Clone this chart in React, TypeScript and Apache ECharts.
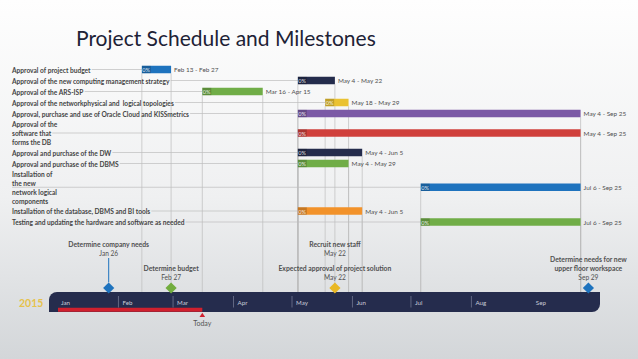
import React, { useEffect, useRef } from 'react';
import * as echarts from 'echarts';

// ---------- data ----------
const TITLE = 'Project Schedule and Milestones';
const YEAR = 2015;
const MONTH_NAMES = ['Jan', 'Feb', 'Mar', 'Apr', 'May', 'Jun', 'Jul', 'Aug', 'Sep', 'Oct', 'Nov', 'Dec'];
const TIMELINE_MONTHS = ['Jan', 'Feb', 'Mar', 'Apr', 'May', 'Jun', 'Jul', 'Aug', 'Sep'];

const TASKS = [
  'Approval of project budget',
  'Approval of the new computing management strategy',
  'Approval of the ARS-ISP',
  'Approval of the networkphysical and  logical topologies',
  'Approval, purchase and use of Oracle Cloud and KISSmetrics',
  'Approval of the\nsoftware that\nforms the DB',
  'Approval and purchase of the DW',
  'Approval and purchase of the DBMS',
  'Installation of\nthe new\nnetwork logical\ncomponents',
  'Installation of the database, DBMS and BI tools',
  'Testing and updating the hardware and software as needed',
];
const TASK_START = ['2015-02-13', '2015-05-04', '2015-03-16', '2015-05-18', '2015-05-04', '2015-05-04', '2015-05-04', '2015-05-04', '2015-07-06', '2015-05-04', '2015-07-06'];
const TASK_END = ['2015-02-27', '2015-05-22', '2015-04-15', '2015-05-29', '2015-09-25', '2015-09-25', '2015-06-05', '2015-05-29', '2015-09-25', '2015-06-05', '2015-09-25'];
const TASK_PROGRESS = [0, 0, 0, 0, 0, 0, 0, 0, 0, 0, 0];

const MILESTONES = [
  'Determine company needs',
  'Determine budget',
  'Recruit new staff',
  'Expected approval of project solution',
  'Determine needs for new\nupper floor workspace',
];
const MILESTONE_DATES = ['2015-01-26', '2015-02-27', '2015-05-22', '2015-05-22', '2015-09-29'];
const TODAY = '2015-03-15';

// ---------- styles ----------
const TASK_COLORS = ['#1e73be', '#242c4c', '#70ad47', '#eac232', '#7b59a5', '#d0403c', '#242c4c', '#70ad47', '#1e73be', '#f2922a', '#70ad47'];
const MILESTONE_COLORS = ['#1e73be', '#72ad3e', '', '#e9b824', '#1e73be'];
const MILESTONE_TIER = [0, 1, 0, 1, 1];
const FONT = 'Lato';
const LABEL_FS = 6.6;
const GRID_LINE = '#bdbdbd';

const DAY_MS = 86400000;
const dayOf = (s: string) => {
  const [y, m, d] = s.split('-').map(Number);
  return (Date.UTC(y, m - 1, d) - Date.UTC(YEAR, 0, 1)) / DAY_MS;
};
const fmtDate = (s: string) => {
  const [, m, d] = s.split('-').map(Number);
  return `${MONTH_NAMES[m - 1]} ${d}`;
};

export default function App() {
  const ref = useRef<HTMLDivElement>(null);
  useEffect(() => {
    if (!ref.current) return;
    const chart = echarts.init(ref.current, undefined, { renderer: 'svg' });

    // row layout (single line rows 11px, extra text lines 8.5px)
    const ROW_H = 11;
    const EXTRA = 8.5;
    let acc = 0;
    const rowCenters = TASKS.map((t) => {
      const n = t.split('\n').length;
      const h = ROW_H + (n - 1) * EXTRA;
      const c = acc + h / 2;
      acc += h;
      return c;
    });

    const LABEL_X = 12;
    const canvas = document.createElement('canvas');
    const ctx = canvas.getContext('2d') as CanvasRenderingContext2D;
    ctx.font = `bold ${LABEL_FS}px ${FONT}`;
    const leaderStart = TASKS.map((t) => {
      const lines = t.split('\n');
      if (lines.length % 2 === 0) return LABEL_X;
      const mid = lines[(lines.length - 1) / 2];
      return LABEL_X + ctx.measureText(mid).width + 1;
    });

    const BAR_H = 7.5;
    const X_MAX = 280;
    const Y_MAX = 228;

    const taskData = TASKS.map((_, i) => [dayOf(TASK_START[i]), dayOf(TASK_END[i]) + 1, rowCenters[i], leaderStart[i], TASK_PROGRESS[i], i]);

    const option: any = {
      animation: false,
      backgroundColor: new echarts.graphic.LinearGradient(0, 0, 0, 1, [
        { offset: 0, color: '#fefefe' },
        { offset: 0.55, color: '#eff0f1' },
        { offset: 1, color: '#d3d6d9' },
      ]),
      grid: [
        { left: 58, right: 34, top: 64, height: Y_MAX },
        { left: 58, right: 34, top: 292, height: 20 },
      ],
      xAxis: [
        { type: 'value', gridIndex: 0, min: 0, max: X_MAX, show: false },
        { type: 'value', gridIndex: 1, min: 0, max: X_MAX, show: false },
      ],
      yAxis: [
        { type: 'value', gridIndex: 0, min: 0, max: Y_MAX, inverse: true, show: false },
        { type: 'value', gridIndex: 1, min: 0, max: 1, show: false },
      ],
      graphic: [
        {
          type: 'text',
          left: 76,
          top: 27,
          style: { text: TITLE, fill: '#1d2236', fontSize: 21, fontFamily: FONT, fontWeight: 'normal' },
        },
        {
          type: 'text',
          left: 19,
          top: 297,
          style: { text: String(YEAR), fill: '#e6c24c', fontSize: 10.5, fontFamily: FONT, fontWeight: 'bold' },
        },
      ],
      series: [
        {
          type: 'custom',
          name: 'guides',
          xAxisIndex: 0,
          yAxisIndex: 0,
          clip: false,
          z: 1,
          data: taskData,
          renderItem: (params: any, api: any) => {
            const s = api.coord([api.value(0), api.value(2)]);
            const e = api.coord([api.value(1), api.value(2)]);
            const bottom = params.coordSys.y + params.coordSys.height;
            const half = BAR_H / 2;
            const st = { stroke: GRID_LINE, lineWidth: 0.7 };
            return {
              type: 'group',
              children: [
                { type: 'line', shape: { x1: api.value(3), y1: s[1], x2: s[0], y2: s[1] }, style: st },
                { type: 'line', shape: { x1: s[0], y1: s[1] + half, x2: s[0], y2: bottom }, style: st },
                { type: 'line', shape: { x1: e[0], y1: e[1] + half, x2: e[0], y2: bottom }, style: st },
              ],
            };
          },
        },
        {
          type: 'custom',
          name: 'tasks',
          xAxisIndex: 0,
          yAxisIndex: 0,
          clip: false,
          z: 2,
          data: taskData,
          renderItem: (params: any, api: any) => {
            const i = api.value(5);
            const s = api.coord([api.value(0), api.value(2)]);
            const e = api.coord([api.value(1), api.value(2)]);
            const w = e[0] - s[0];
            const y = s[1] - BAR_H / 2;
            return {
              type: 'group',
              children: [
                {
                  type: 'text',
                  x: LABEL_X,
                  y: s[1],
                  style: {
                    text: TASKS[i],
                    fill: '#454545',
                    fontSize: LABEL_FS,
                    fontFamily: FONT,
                    fontWeight: 'bold',
                    verticalAlign: 'middle',
                    align: 'left',
                    lineHeight: 9,
                  },
                },
                { type: 'rect', shape: { x: s[0], y, width: w, height: BAR_H }, style: { fill: TASK_COLORS[i] } },
                { type: 'rect', shape: { x: s[0], y, width: Math.min(9, w), height: BAR_H }, style: { fill: 'rgba(0,0,0,0.18)' } },
                {
                  type: 'text',
                  x: s[0] + 0.5,
                  y: s[1],
                  style: {
                    text: `${api.value(4)}%`,
                    fill: 'rgba(255,255,255,0.85)',
                    fontSize: 5.6,
                    fontFamily: FONT,
                    verticalAlign: 'middle',
                    align: 'left',
                  },
                },
                {
                  type: 'text',
                  x: e[0] + 3,
                  y: e[1],
                  style: {
                    text: `${fmtDate(TASK_START[i])} - ${fmtDate(TASK_END[i])}`,
                    fill: '#505050',
                    fontSize: 6.4,
                    fontFamily: FONT,
                    verticalAlign: 'middle',
                    align: 'left',
                  },
                },
              ],
            };
          },
        },
        {
          type: 'custom',
          name: 'timeline',
          xAxisIndex: 1,
          yAxisIndex: 1,
          clip: false,
          z: 3,
          data: [[0, dayOf(TODAY) + 1]],
          renderItem: (params: any, api: any) => {
            const cs = params.coordSys;
            const a = api.coord([api.value(0), 0]);
            const t = api.coord([api.value(1), 0]);
            const bottom = cs.y + cs.height;
            return {
              type: 'group',
              children: [
                {
                  type: 'rect',
                  shape: { x: cs.x - 9, y: cs.y, width: cs.width + 5, height: cs.height, r: [8, 0, 8, 0] },
                  style: { fill: '#252c4d' },
                },
                {
                  type: 'rect',
                  shape: { x: a[0], y: bottom - 4.3, width: t[0] - a[0], height: 4 },
                  style: { fill: '#d0202e' },
                },
                {
                  type: 'polygon',
                  shape: { points: [[t[0], bottom + 0.8], [t[0] - 2.8, bottom + 5], [t[0] + 2.8, bottom + 5]] },
                  style: { fill: '#d0202e' },
                },
                {
                  type: 'text',
                  x: t[0],
                  y: bottom + 11,
                  style: { text: 'Today', fill: '#555', fontSize: 7, fontFamily: FONT, align: 'center', verticalAlign: 'middle' },
                },
              ],
            };
          },
        },
        {
          type: 'custom',
          name: 'months',
          xAxisIndex: 1,
          yAxisIndex: 1,
          clip: false,
          z: 4,
          data: TIMELINE_MONTHS.map((_, m) => [dayOf(`${YEAR}-${m + 1}-01`), m]),
          renderItem: (params: any, api: any) => {
            const cs = params.coordSys;
            const m = api.value(1);
            const p = api.coord([api.value(0), 0]);
            const children: any[] = [];
            if (m > 0 && m < TIMELINE_MONTHS.length - 1) {
              children.push({
                type: 'line',
                shape: { x1: p[0], y1: cs.y + 4, x2: p[0], y2: cs.y + 15.5 },
                style: { stroke: '#8a91a8', lineWidth: 0.6 },
              });
            }
            children.push({
              type: 'text',
              x: p[0] + (m === 0 ? 3 : 4),
              y: cs.y + 10.5,
              style: { text: TIMELINE_MONTHS[m], fill: '#c9cdd9', fontSize: 6.2, fontFamily: FONT, align: 'left', verticalAlign: 'middle' },
            });
            return { type: 'group', children };
          },
        },
        {
          type: 'custom',
          name: 'milestones',
          xAxisIndex: 1,
          yAxisIndex: 1,
          clip: false,
          z: 5,
          data: MILESTONES.map((_, i) => [dayOf(MILESTONE_DATES[i]) + 1, i]),
          renderItem: (params: any, api: any) => {
            const cs = params.coordSys;
            const i = api.value(1);
            const p = api.coord([api.value(0), 0]);
            const x = p[0];
            const cy = cs.y - 4;
            const hs = 5.6;
            const tier = MILESTONE_TIER[i];
            const color = MILESTONE_COLORS[i];
            const dateY = tier === 0 ? cs.y - 39 : cs.y - 15;
            const nameY = dateY - 9;
            const children: any[] = [];
            if (color && tier === 0) {
              children.push({
                type: 'line',
                shape: { x1: x, y1: dateY + 5, x2: x, y2: cy - hs },
                style: { stroke: color, lineWidth: 1 },
              });
            }
            if (color) {
              children.push({
                type: 'polygon',
                shape: { points: [[x, cy - hs], [x + hs, cy], [x, cy + hs], [x - hs, cy]] },
                style: { fill: color },
              });
            }
            children.push({
              type: 'text',
              x,
              y: nameY + 4.5,
              style: {
                text: MILESTONES[i],
                fill: '#505050',
                fontSize: 6.8,
                fontFamily: FONT,
                fontWeight: 'bold',
                align: 'center',
                verticalAlign: 'bottom',
                lineHeight: 9,
              },
            });
            children.push({
              type: 'text',
              x,
              y: dateY,
              style: { text: fmtDate(MILESTONE_DATES[i]), fill: '#505050', fontSize: 6.6, fontFamily: FONT, align: 'center', verticalAlign: 'middle' },
            });
            return { type: 'group', children };
          },
        },
      ],
    };
    chart.setOption(option);
    return () => chart.dispose();
  }, []);
  return <div ref={ref} style={{ position: 'fixed', left: 0, top: 0, width: 638, height: 359 }} />;
}
